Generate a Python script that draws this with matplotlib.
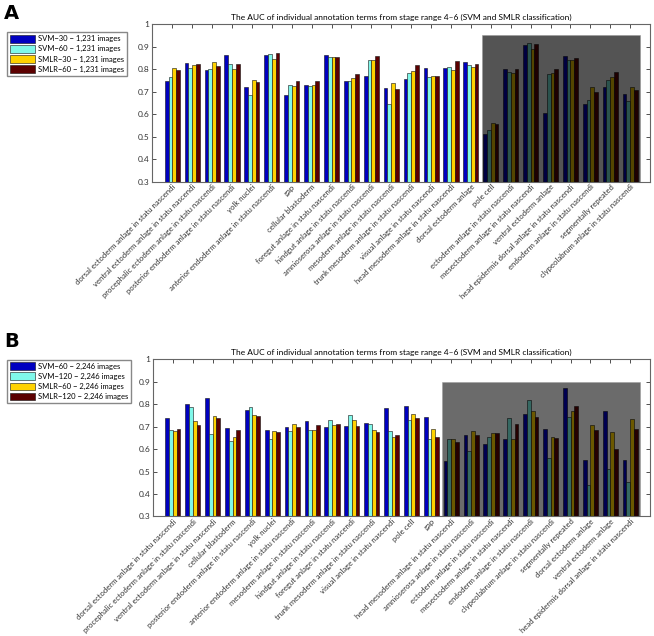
import numpy as np
import matplotlib.pyplot as plt
from matplotlib.patches import Rectangle

plt.rcParams['font.family'] = ['Lato', 'DejaVu Sans']

title = 'The AUC of individual annotation terms from stage range 4\u20136 (SVM and SMLR classification)'

# panel A
terms_a = [
    'dorsal ectoderm anlage in statu nascendi',
    'ventral ectoderm anlage in statu nascendi',
    'procephalic ectoderm anlage in statu nascendi',
    'posterior endoderm anlage in statu nascendi',
    'yolk nuclei',
    'anterior endoderm anlage in statu nascendi',
    'gap',
    'cellular blastoderm',
    'foregut anlage in statu nascendi',
    'hindgut anlage in statu nascendi',
    'amnioserosa anlage in statu nascendi',
    'mesoderm anlage in statu nascendi',
    'trunk mesoderm anlage in statu nascendi',
    'visual anlage in statu nascendi',
    'head mesoderm anlage in statu nascendi',
    'dorsal ectoderm anlage',
    'pole cell',
    'ectoderm anlage in statu nascendi',
    'mesectoderm anlage in statu nascendi',
    'ventral ectoderm anlage',
    'head epidermis dorsal anlage in statu nascendi',
    'endoderm anlage in statu nascendi',
    'segmentally repeated',
    'clypeolabrum anlage in statu nascendi',
]
series_a = ['SVM\u221230 \u2212 1,231 images', 'SVM\u221260 \u2212 1,231 images',
            'SMLR\u221230 \u2212 1,231 images', 'SMLR\u221260 \u2212 1,231 images']
svm30_a = [0.748, 0.826, 0.795, 0.862, 0.720, 0.862, 0.685, 0.728, 0.862, 0.748, 0.770, 0.718,
           0.758, 0.805, 0.805, 0.831, 0.514, 0.800, 0.907, 0.607, 0.860, 0.647, 0.722, 0.688]
svm60_a = [0.764, 0.804, 0.800, 0.823, 0.684, 0.868, 0.728, 0.725, 0.855, 0.748, 0.841, 0.644,
           0.784, 0.765, 0.810, 0.817, 0.530, 0.787, 0.916, 0.778, 0.840, 0.665, 0.752, 0.660]
smlr30_a = [0.807, 0.818, 0.831, 0.800, 0.751, 0.844, 0.727, 0.728, 0.856, 0.760, 0.840, 0.737,
            0.792, 0.771, 0.797, 0.811, 0.561, 0.783, 0.889, 0.783, 0.840, 0.722, 0.765, 0.720]
smlr60_a = [0.795, 0.822, 0.815, 0.823, 0.745, 0.871, 0.749, 0.748, 0.855, 0.780, 0.859, 0.711,
            0.820, 0.771, 0.836, 0.824, 0.557, 0.799, 0.910, 0.799, 0.851, 0.700, 0.787, 0.710]

# panel B
terms_b = [
    'dorsal ectoderm anlage in statu nascendi',
    'procephalic ectoderm anlage in statu nascendi',
    'ventral ectoderm anlage in statu nascendi',
    'cellular blastoderm',
    'posterior endoderm anlage in statu nascendi',
    'yolk nuclei',
    'anterior endoderm anlage in statu nascendi',
    'mesoderm anlage in statu nascendi',
    'hindgut anlage in statu nascendi',
    'foregut anlage in statu nascendi',
    'trunk mesoderm anlage in statu nascendi',
    'visual anlage in statu nascendi',
    'pole cell',
    'gap',
    'head mesoderm anlage in statu nascendi',
    'amnioserosa anlage in statu nascendi',
    'ectoderm anlage in statu nascendi',
    'mesectoderm anlage in statu nascendi',
    'endoderm anlage in statu nascendi',
    'clypeolabrum anlage in statu nascendi',
    'segmentally repeated',
    'dorsal ectoderm anlage',
    'ventral ectoderm anlage',
    'head epidermis dorsal anlage in statu nascendi',
]
series_b = ['SVM\u221260 \u2212 2,246 images', 'SVM\u2212120 \u2212 2,246 images',
            'SMLR\u221260 \u2212 2,246 images', 'SMLR\u2212120 \u2212 2,246 images']
svm60_b = [0.740, 0.803, 0.826, 0.693, 0.773, 0.685, 0.697, 0.726, 0.697, 0.705, 0.718, 0.782,
           0.792, 0.742, 0.546, 0.662, 0.622, 0.644, 0.755, 0.688, 0.871, 0.550, 0.772, 0.550]
svm120_b = [0.687, 0.789, 0.669, 0.634, 0.786, 0.644, 0.682, 0.684, 0.731, 0.751, 0.714, 0.680,
            0.730, 0.644, 0.645, 0.592, 0.654, 0.737, 0.818, 0.559, 0.742, 0.440, 0.512, 0.455]
smlr60_b = [0.680, 0.726, 0.746, 0.656, 0.754, 0.682, 0.711, 0.684, 0.709, 0.728, 0.687, 0.656,
            0.755, 0.688, 0.645, 0.680, 0.671, 0.644, 0.770, 0.654, 0.770, 0.706, 0.675, 0.736]
smlr120_b = [0.691, 0.708, 0.740, 0.687, 0.746, 0.674, 0.699, 0.709, 0.714, 0.702, 0.674, 0.662,
             0.739, 0.653, 0.632, 0.663, 0.671, 0.712, 0.742, 0.651, 0.792, 0.684, 0.600, 0.688]

colors = ['#0000c0', '#80f8ea', '#ffd200', '#5c0000']
yticks = [0.3, 0.4, 0.5, 0.6, 0.7, 0.8, 0.9, 1.0]
ytick_labels = ['0.3', '0.4', '0.5', '0.6', '0.7', '0.8', '0.9', '1']


def draw_panel(ax, terms, data, names, shade_from, shade_top, shade_alpha, legend_y):
    x = np.arange(1, len(terms) + 1)
    w = 0.19
    handles = []
    for i, vals in enumerate(data):
        b = ax.bar(x + (i - 1.5) * w, vals, width=w, bottom=0, color=colors[i],
                   edgecolor='#111111', linewidth=0.4, label=names[i], zorder=2)
        handles.append(b)
    ax.add_patch(Rectangle((shade_from - 0.45, 0.3), len(terms) + 0.5 - (shade_from - 0.45),
                           shade_top - 0.3, facecolor='black', alpha=shade_alpha,
                           edgecolor='#999999', linewidth=0.6, zorder=3))
    ax.set_xlim(0, len(terms) + 1)
    ax.set_ylim(0.3, 1)
    ax.set_yticks(yticks)
    ax.set_yticklabels(ytick_labels, fontsize=6)
    ax.set_xticks(x)
    ax.set_xticklabels(terms, rotation=45, ha='right', rotation_mode='anchor', fontsize=5.6)
    ax.tick_params(direction='in', length=3, width=0.6, top=True, right=True,
                   bottom=False, pad=2, colors='#333333')
    ax.tick_params(axis='x', pad=1)
    for s in ax.spines.values():
        s.set_color('#666666')
        s.set_linewidth(0.8)
    ax.set_title(title, fontsize=6, pad=3)
    fig.legend(handles=handles, loc='upper left', bbox_to_anchor=(0.009, legend_y),
               fontsize=5.5, handlelength=3.2, handleheight=1.2, borderpad=0.35,
               labelspacing=0.3, handletextpad=0.5, borderaxespad=0.2, fancybox=False,
               framealpha=1, edgecolor='#888888')


fig = plt.figure(figsize=(6.54, 6.36), dpi=100)
ax_a = fig.add_axes([0.233, 0.714, 0.761, 0.248])
ax_b = fig.add_axes([0.234, 0.188, 0.760, 0.247])

draw_panel(ax_a, terms_a, [svm30_a, svm60_a, smlr30_a, smlr60_a], series_a,
           17, 0.95, 0.67, 0.952)
draw_panel(ax_b, terms_b, [svm60_b, svm120_b, smlr60_b, smlr120_b], series_b,
           15, 0.90, 0.58, 0.437)

fig.text(0.006, 0.993, 'A', fontsize=14, fontweight='bold', va='top', family='DejaVu Sans')
fig.text(0.006, 0.478, 'B', fontsize=14, fontweight='bold', va='top', family='DejaVu Sans')

fig.savefig('out.png', dpi=100)
